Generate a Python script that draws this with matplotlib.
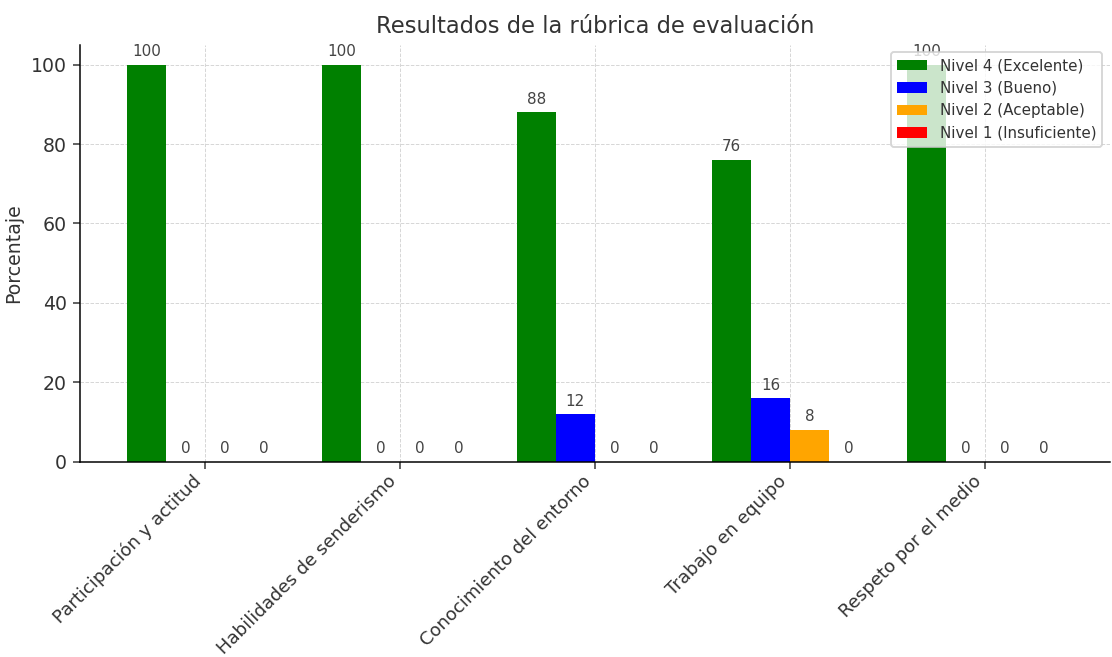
import matplotlib
matplotlib.use('Agg')
import matplotlib.pyplot as plt
import numpy as np

categorias = ['Participación y actitud', 'Habilidades de senderismo',
              'Conocimiento del entorno', 'Trabajo en equipo', 'Respeto por el medio']
niveles = ['Nivel 4 (Excelente)', 'Nivel 3 (Bueno)', 'Nivel 2 (Aceptable)', 'Nivel 1 (Insuficiente)']
nivel4 = [100, 100, 88, 76, 100]
nivel3 = [0, 0, 12, 16, 0]
nivel2 = [0, 0, 0, 8, 0]
nivel1 = [0, 0, 0, 0, 0]
colores = ['green', 'blue', 'orange', 'red']

plt.rcParams['text.color'] = '#333333'
plt.rcParams['axes.labelcolor'] = '#333333'
plt.rcParams['xtick.color'] = '#333333'
plt.rcParams['ytick.color'] = '#333333'

fig = plt.figure(figsize=(1112/136, 657/136), dpi=136)
ax = fig.add_axes([0.072, 0.297, 0.926, 0.635])

x = np.arange(len(categorias))
w = 0.2
series = [nivel4, nivel3, nivel2, nivel1]
for i, (vals, nombre, c) in enumerate(zip(series, niveles, colores)):
    bars = ax.bar(x + (i - 1.5) * w, vals, w, label=nombre, color=c)
    ax.bar_label(bars, padding=3, fontsize=8, color='#444444')

ax.set_title('Resultados de la rúbrica de evaluación')
ax.set_ylabel('Porcentaje')
ax.set_xticks(x)
ax.set_xticklabels(categorias, rotation=45, ha='right', fontsize=9.5)
ax.tick_params(axis='x', pad=2)
ax.set_ylim(0, 105)
ax.grid(True, linestyle='--', linewidth=0.5, color='#d5d5d5')
ax.set_axisbelow(True)
ax.spines['top'].set_visible(False)
ax.spines['right'].set_visible(False)
ax.legend(loc='upper right', fontsize=8)

fig.savefig('out.png', dpi=136)
